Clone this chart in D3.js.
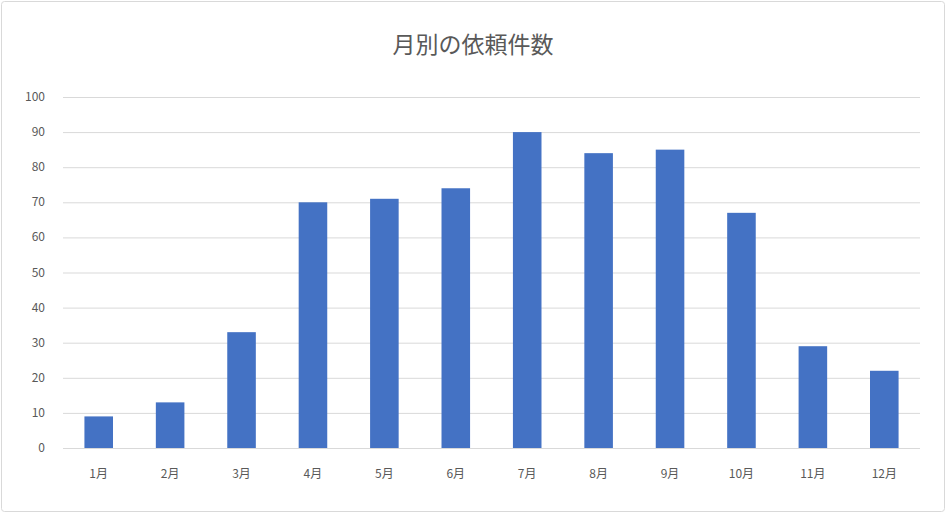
<!DOCTYPE html>
<html><head><meta charset="utf-8">
<script src="https://cdn.jsdelivr.net/npm/d3@7"></script>
<style>body{margin:0;background:#fff}</style>
</head><body>
<svg id="chart" width="947" height="514"></svg>
<script>
var months = ["1月","2月","3月","4月","5月","6月","7月","8月","9月","10月","11月","12月"];
var counts = [9, 13, 33, 70, 71, 74, 90, 84, 85, 67, 29, 22];
var yTicks = [0,10,20,30,40,50,60,70,80,90,100];

var svg = d3.select("#chart");
var font = "'Noto Sans CJK JP', 'Noto Sans', sans-serif";

svg.append("rect")
  .attr("x", 1.5).attr("y", 1.5).attr("width", 943).attr("height", 510)
  .attr("fill", "#fff").attr("stroke", "#d9d9d9").attr("rx", 3);

svg.append("text")
  .attr("x", 473).attr("y", 53)
  .attr("text-anchor", "middle")
  .attr("font-family", font).attr("font-size", 23)
  .attr("fill", "#595959")
  .text("月別の依頼件数");

var x = d3.scaleBand().domain(months).range([63, 920]).paddingInner(0.6).paddingOuter(0.3);
var y = d3.scaleLinear().domain([0, 100]).range([448, 97]);

// gridlines
svg.append("g").selectAll("line").data(yTicks).join("line")
  .attr("x1", 63).attr("x2", 920)
  .attr("y1", d => y(d) + 0.5).attr("y2", d => y(d) + 0.5)
  .attr("stroke", "#d9d9d9");

// y labels
svg.append("g").selectAll("text").data(yTicks).join("text")
  .attr("x", 45).attr("y", d => y(d) + 4)
  .attr("text-anchor", "end")
  .attr("font-family", font).attr("font-size", 12)
  .attr("fill", "#595959")
  .text(d => d);

// bars
svg.append("g").selectAll("rect").data(counts).join("rect")
  .attr("x", (d, i) => x(months[i]))
  .attr("width", x.bandwidth())
  .attr("y", d => y(d))
  .attr("height", d => y(0) - y(d))
  .attr("fill", "#4472c4");

// x labels
svg.append("g").selectAll("text").data(months).join("text")
  .attr("x", d => x(d) + x.bandwidth() / 2)
  .attr("y", 478)
  .attr("text-anchor", "middle")
  .attr("font-family", font).attr("font-size", 12)
  .attr("fill", "#595959")
  .text(d => d);
</script>
</body></html>
